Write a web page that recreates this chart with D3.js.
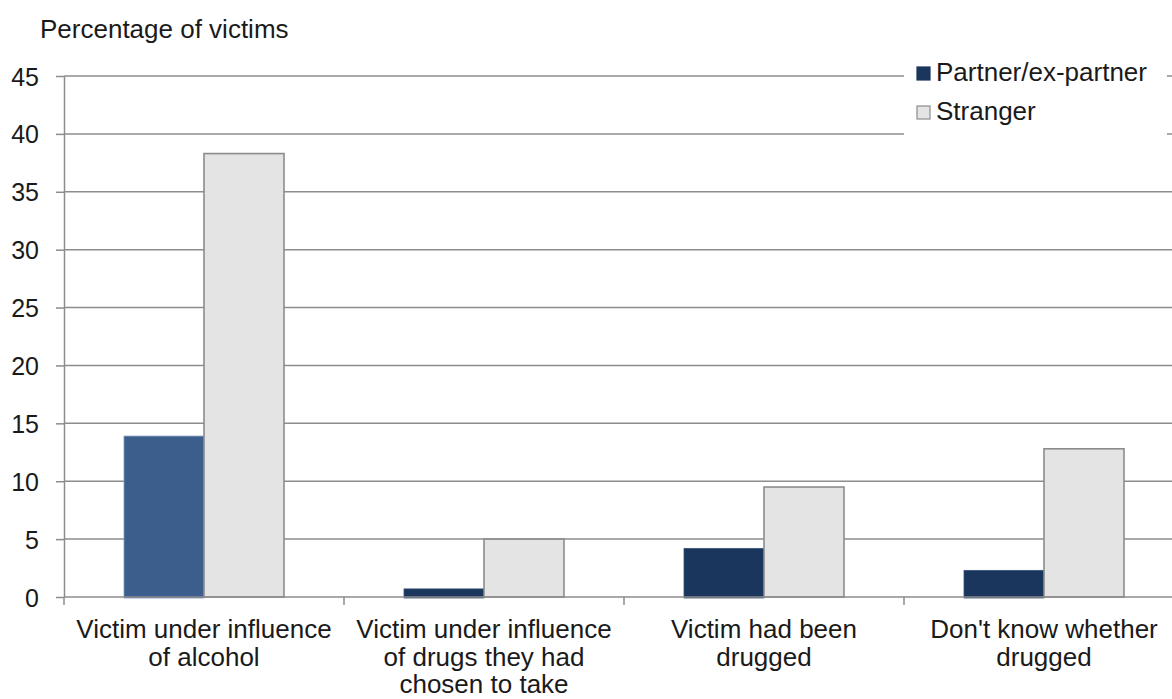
<!DOCTYPE html>
<html><head><meta charset="utf-8">
<script src="https://cdn.jsdelivr.net/npm/d3@7"></script>
<style>body{margin:0;background:#fff;}svg{display:block;font-family:"Liberation Sans",Arial,sans-serif;}</style>
</head><body>
<script>
const categories = [
  ["Victim under influence", "of alcohol"],
  ["Victim under influence", "of drugs they had", "chosen to take"],
  ["Victim had been", "drugged"],
  ["Don't know whether", "drugged"]
];
const seriesNames = ["Partner/ex-partner", "Stranger"];
const partner = [13.9, 0.7, 4.2, 2.3];
const stranger = [38.3, 5.0, 9.5, 12.8];
const yTicks = [0, 5, 10, 15, 20, 25, 30, 35, 40, 45];
const yTitle = "Percentage of victims";

const W = 1172, H = 699;
const svg = d3.select("body").append("svg").attr("width", W).attr("height", H);
const x0 = 64, x1 = 1184, yBot = 597, yTop = 76;
const idx = categories.map((d,i)=>i);
const x = d3.scaleBand().domain(idx).range([x0, x1]).paddingInner(0).paddingOuter(0);
const y = d3.scaleLinear().domain([0, 45]).range([yBot, yTop]);
const grid = "#8c8c8c";
const txt = "#1a1a1a";

// gridlines
svg.append("g").selectAll("line").data(yTicks.filter(t=>t>0)).join("line")
  .attr("x1", x0).attr("x2", W).attr("y1", d=>y(d)).attr("y2", d=>y(d))
  .attr("stroke", grid).attr("stroke-width", 1.5);

// bars
const bw = 80;
const partnerCols = ["#3b5e8c", "#1a365d", "#1a365d", "#1a365d"];
svg.append("g").selectAll("rect").data(partner).join("rect")
  .attr("x", (d,i)=>x(i) + x.bandwidth()/2 - bw)
  .attr("y", d=>y(d)).attr("width", bw).attr("height", d=>yBot - y(d) + 1)
  .attr("fill", (d,i)=>partnerCols[i]).attr("stroke", (d,i)=>i===0?"#7f9cc2":"#3a5478").attr("stroke-width", 0.8);
svg.append("g").selectAll("rect").data(stranger).join("rect")
  .attr("x", (d,i)=>x(i) + x.bandwidth()/2)
  .attr("y", d=>y(d)).attr("width", bw).attr("height", d=>yBot - y(d))
  .attr("fill", "#e4e4e4").attr("stroke", grid).attr("stroke-width", 1.6);

// y axis
const yAxis = d3.axisLeft(y).tickValues(yTicks).tickSize(8).tickPadding(17).tickSizeOuter(0);
const ga = svg.append("g").attr("transform", `translate(${x0},0)`).call(yAxis);
ga.select(".domain").attr("stroke", grid).attr("stroke-width", 1.5);
ga.selectAll(".tick line").attr("stroke", grid).attr("stroke-width", 1.5);
ga.selectAll(".tick text").attr("font-size", 25).attr("fill", txt).attr("font-family", "Liberation Sans, Arial, sans-serif").attr("dy", "0.36em");

// x axis
svg.append("line").attr("x1", x0).attr("x2", W).attr("y1", yBot).attr("y2", yBot).attr("stroke", grid).attr("stroke-width", 1.5);
svg.append("g").selectAll("line").data(idx).join("line")
  .attr("x1", d=>x(d)).attr("x2", d=>x(d)).attr("y1", yBot).attr("y2", yBot+8)
  .attr("stroke", grid).attr("stroke-width", 1.5);

// category labels
const lab = svg.append("g").selectAll("text").data(categories).join("text")
  .attr("x", (d,i)=>x(i)+x.bandwidth()/2).attr("y", 638)
  .attr("text-anchor", "middle").attr("font-size", 26).attr("fill", txt);
lab.selectAll("tspan").data(d=>d).join("tspan")
  .attr("x", function(){return d3.select(this.parentNode).attr("x");})
  .attr("dy", (d,i)=>i===0?0:27.5).text(d=>d);

// y title
svg.append("text").attr("x", 40).attr("y", 38).attr("font-size", 26).attr("fill", txt).text(yTitle);

// legend
const lg = svg.append("g");
lg.append("rect").attr("x", 904).attr("y", 52).attr("width", 263).attr("height", 100).attr("fill", "#fff");
const lc = [{fill:"#1a365d", stroke:"#1a365d"}, {fill:"#e4e4e4", stroke:"#8c8c8c"}];
seriesNames.forEach((s,i)=>{
  const yy = 67 + i*39;
  lg.append("rect").attr("x", 917).attr("y", yy).attr("width", 13).attr("height", 13)
    .attr("fill", lc[i].fill).attr("stroke", lc[i].stroke).attr("stroke-width", 1.2);
  lg.append("text").attr("x", 936).attr("y", yy+13.5).attr("font-size", 26).attr("fill", txt).text(s);
});
</script>
</body></html>
